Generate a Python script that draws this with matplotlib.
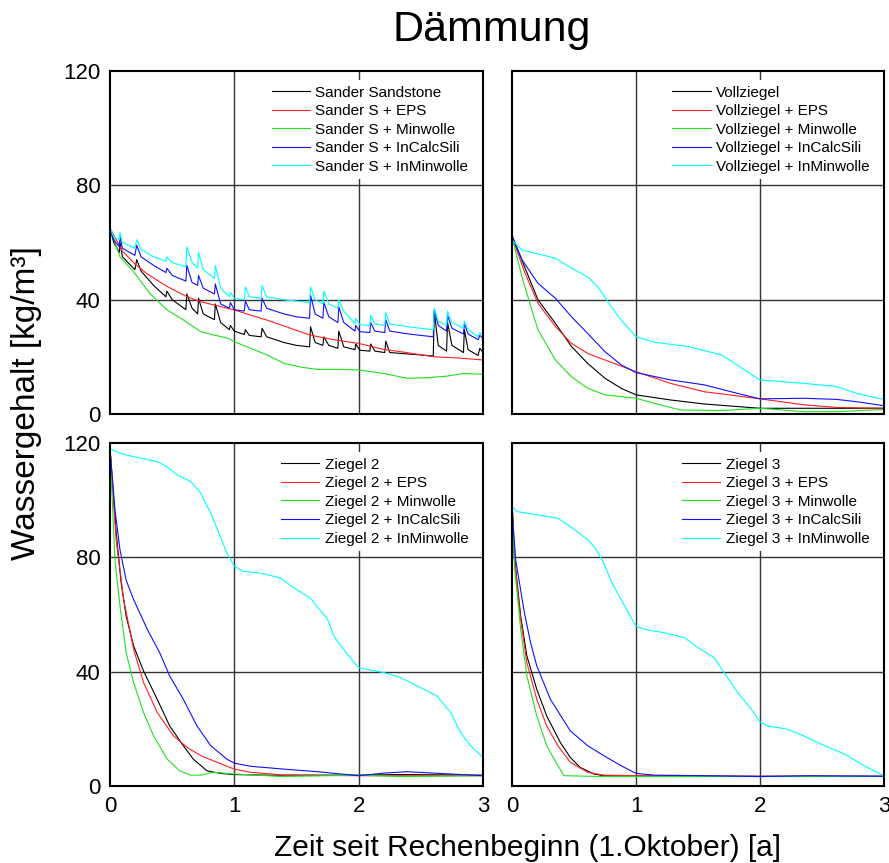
import matplotlib.pyplot as plt

plt.rcParams['font.family'] = ['Liberation Sans', 'DejaVu Sans']

# ---- Sander Sandstone (top left) ----
ss_names = ['Sander Sandstone', 'Sander S + EPS', 'Sander S + Minwolle',
            'Sander S + InCalcSili', 'Sander S + InMinwolle']

ss_black_t = [0.00, 0.03, 0.075, 0.08, 0.10, 0.20, 0.215, 0.25, 0.35, 0.45, 0.457, 0.50,
              0.61, 0.618, 0.66, 0.705, 0.712, 0.75, 0.84, 0.847, 0.89, 0.96, 0.968, 1.00,
              1.08, 1.089, 1.12, 1.215, 1.223, 1.26, 1.40, 1.50, 1.605, 1.613, 1.65, 1.712,
              1.72, 1.76, 1.833, 1.84, 1.88, 1.97, 1.976, 2.01, 2.09, 2.097, 2.13, 2.21,
              2.218, 2.25, 2.40, 2.60, 2.608, 2.64, 2.707, 2.715, 2.75, 2.843, 2.85, 2.88,
              2.96, 2.975, 3.00]
ss_black_v = [65, 60, 56.5, 60, 55, 50.5, 54, 50, 45, 41, 43, 40,
              36.5, 42, 37, 35, 40.5, 35, 33, 38.5, 32, 29.5, 31, 29,
              27.8, 29.5, 27.5, 27, 30, 27, 25, 24, 23.5, 30.5, 25, 24,
              27, 24, 23, 29, 23.5, 22.5, 24.5, 22.3, 22, 24.5, 22, 21.5,
              25.5, 21.5, 21, 20.3, 36, 24, 22, 32, 24, 21.5, 29.5, 22.5,
              20.5, 23, 21.5]

ss_red_t = [0, 0.1, 0.2, 0.3, 0.46, 0.62, 0.73, 0.85, 1.0, 1.13, 1.26, 1.4, 1.53, 1.61,
            1.8, 2.0, 2.2, 2.34, 2.47, 2.61, 2.8, 3.0]
ss_red_v = [65, 57, 52.5, 49, 44.6, 41, 39.3, 38, 36.4, 34.6, 32.9, 30.8, 28.8, 27.6,
            26, 24.7, 22.6, 21.8, 20.9, 20, 19.6, 18.9]

ss_green_t = [0, 0.08, 0.19, 0.32, 0.46, 0.59, 0.73, 0.83, 0.95, 1.0, 1.13, 1.26, 1.4,
              1.55, 1.67, 1.85, 2.0, 2.2, 2.39, 2.55, 2.7, 2.85, 3.0]
ss_green_v = [65, 55, 49.8, 42.2, 36.4, 32.9, 28.8, 27.7, 26.5, 25.3, 23, 20.7, 17.7,
              16.3, 15.6, 15.6, 15.4, 14.2, 12.5, 12.7, 13.2, 14.2, 13.9]

ss_blue_t = ss_black_t
ss_blue_v = [65, 61, 58.5, 62, 58, 55.5, 59, 55, 52, 49.5, 51, 48.5,
             46.5, 52, 46, 45, 48.5, 44, 42, 45.5, 38.5, 37, 39, 36.5,
             36, 39.5, 36.5, 36, 40.5, 37, 35, 34, 33.5, 41.5, 35, 33.5,
             39, 34, 32, 37.5, 32, 29, 31, 28.8, 28.5, 32, 29, 28.5,
             33, 29, 28, 27, 36.5, 31, 29, 34.5, 30, 28, 31.5, 28,
             26, 27.5, 26.5]

ss_cyan_t = ss_black_t
ss_cyan_v = [65, 62, 61, 63.5, 60, 58, 61, 57.5, 55, 53.5, 55, 53,
             51.5, 58.5, 53, 51, 56.5, 50.5, 47.5, 52, 44, 41, 42.5, 40.5,
             40, 44.5, 41, 40.5, 45, 41, 40, 39.5, 39, 44.5, 40, 38.5,
             43, 38.5, 37, 40, 36, 31.5, 33.5, 31.2, 31, 34.5, 31.5, 31,
             35.5, 31.5, 30.5, 29.5, 37, 32.5, 31, 36, 32, 30, 32.5, 29.5,
             27, 28.5, 27.5]

# ---- Vollziegel (top right) ----
vz_names = ['Vollziegel', 'Vollziegel + EPS', 'Vollziegel + Minwolle',
            'Vollziegel + InCalcSili', 'Vollziegel + InMinwolle']

vz_black_t = [0, 0.1, 0.21, 0.35, 0.48, 0.61, 0.75, 0.88, 1.0, 1.28, 1.55, 2.0, 2.4, 3.0]
vz_black_v = [62.6, 51.6, 39.9, 31.7, 23.6, 17.7, 12.5, 9, 6.7, 4.9, 3.5, 2, 2, 2]

vz_red_t = [0, 0.1, 0.21, 0.35, 0.48, 0.61, 0.75, 1.0, 1.28, 1.55, 2.0, 2.36, 2.62, 3.0]
vz_red_v = [62, 49.8, 38.7, 30.6, 24.7, 21.2, 18.9, 14.8, 10.7, 7.8, 5.3, 3.2, 2.3, 2]

vz_green_t = [0, 0.08, 0.16, 0.21, 0.35, 0.48, 0.61, 0.75, 1.0, 1.15, 1.36, 1.69, 2.0,
              2.36, 2.62, 3.0]
vz_green_v = [62, 48, 36.4, 29.4, 18.9, 13, 9, 6.7, 5.5, 3.7, 1.4, 1.2, 2, 0.8, 0.8, 1.6]

vz_blue_t = [0, 0.08, 0.21, 0.35, 0.48, 0.61, 0.75, 0.88, 1.0, 1.28, 1.55, 1.82, 2.0,
             2.36, 2.62, 2.78, 3.0]
vz_blue_v = [62, 54, 45.7, 40.5, 34, 28.2, 21.8, 17.2, 14.5, 11.9, 10.2, 7.2, 5.3,
             5.5, 5.1, 4.3, 2.9]

vz_cyan_t = [0, 0.08, 0.21, 0.35, 0.48, 0.61, 0.69, 0.8, 0.88, 1.0, 1.15, 1.42, 1.69,
             2.0, 2.36, 2.62, 2.78, 3.0]
vz_cyan_v = [60.9, 57.4, 56, 54.5, 51, 48, 44.6, 37.6, 32.9, 27, 25.1, 23.6, 20.7,
             11.9, 10.7, 9.6, 7.2, 5.1]

# ---- Ziegel 2 (bottom left) ----
z2_names = ['Ziegel 2', 'Ziegel 2 + EPS', 'Ziegel 2 + Minwolle',
            'Ziegel 2 + InCalcSili', 'Ziegel 2 + InMinwolle']

z2_black_t = [0, 0.05, 0.09, 0.13, 0.19, 0.27, 0.38, 0.48, 0.59, 0.67, 0.78, 0.89, 1.0,
              1.26, 2.0, 2.34, 3.0]
z2_black_v = [118, 88.5, 71, 59.4, 49, 40.2, 30.3, 21, 14.1, 9.4, 5.3, 4.4, 4, 3.8, 3.8,
              4, 3.8]

z2_red_t = [0, 0.05, 0.11, 0.19, 0.27, 0.38, 0.51, 0.62, 0.73, 0.86, 1.0, 1.13, 1.4,
            2.0, 3.0]
z2_red_v = [118, 86, 65.2, 47.8, 36.2, 25.7, 17.6, 13.5, 10.6, 8.3, 5.9, 4.8, 3.8,
            3.6, 3.6]

z2_green_t = [0, 0.04, 0.08, 0.13, 0.19, 0.27, 0.35, 0.46, 0.56, 0.65, 0.73, 0.83, 1.0,
              1.26, 1.37, 2.0, 2.34, 3.0]
z2_green_v = [118, 79, 63, 46.6, 36.2, 25.7, 17.6, 9.4, 5.3, 3.8, 3.8, 4.8, 4.2,
              3.6, 3.3, 3.8, 3.3, 3.6]

z2_blue_t = [0, 0.04, 0.08, 0.13, 0.19, 0.30, 0.40, 0.48, 0.59, 0.70, 0.81, 0.94, 1.0,
             1.13, 1.4, 1.67, 2.0, 2.2, 2.39, 2.61, 3.0]
z2_blue_v = [118, 96.6, 82.7, 72, 65.2, 54.8, 46.6, 38.5, 30.3, 21, 14.1, 9.4, 8,
             6.9, 5.9, 5, 3.6, 4.5, 5, 4.5, 3.6]

z2_cyan_t = [0, 0.08, 0.19, 0.38, 0.46, 0.54, 0.65, 0.73, 0.81, 0.86, 0.94, 1.0, 1.07,
             1.21, 1.37, 1.48, 1.61, 1.75, 1.8, 1.91, 2.0, 2.2, 2.34, 2.47, 2.63, 2.74,
             2.82, 2.9, 3.0]
z2_cyan_v = [118, 116.4, 115.2, 113.5, 111.7, 108.8, 106.5, 102.4, 95.5, 90.2, 81.5,
             76.9, 75.1, 74.5, 72.8, 69.3, 65.8, 58.3, 52.4, 46, 41.4, 39.7, 37.9, 35,
             31.5, 25.7, 18.7, 14.1, 10]

# ---- Ziegel 3 (bottom right) ----
z3_names = ['Ziegel 3', 'Ziegel 3 + EPS', 'Ziegel 3 + Minwolle',
            'Ziegel 3 + InCalcSili', 'Ziegel 3 + InMinwolle']

z3_black_t = [0, 0.02, 0.07, 0.12, 0.2, 0.28, 0.39, 0.47, 0.55, 0.66, 0.74, 1.0, 2.0, 3.0]
z3_black_v = [100.7, 80, 59.4, 45.5, 33.8, 24.5, 15.2, 10, 6.5, 4.2, 3.6, 3.5, 3.4, 3.4]

z3_red_t = [0, 0.02, 0.07, 0.12, 0.2, 0.28, 0.37, 0.47, 0.61, 0.74, 1.0, 2.0, 3.0]
z3_red_v = [100, 79, 58.3, 43.1, 30.3, 21, 14.1, 8.3, 4.8, 3.8, 3.6, 3.4, 3.4]

z3_green_t = [0, 0.02, 0.07, 0.12, 0.2, 0.28, 0.37, 0.42, 0.74, 2.0, 3.0]
z3_green_v = [100, 76.9, 54.8, 38.5, 24.5, 14.1, 7.1, 3.6, 3.3, 3.3, 3.3]

z3_blue_t = [0, 0.03, 0.1, 0.15, 0.2, 0.31, 0.47, 0.61, 0.74, 0.88, 1.0, 1.15, 1.55,
             2.0, 2.4, 3.0]
z3_blue_v = [96.6, 79, 60.6, 50.1, 42, 30.3, 19.3, 14.1, 10.6, 7.1, 4.4, 3.8, 3.6,
             3.3, 3.6, 3.4]

z3_cyan_t = [0, 0.04, 0.2, 0.37, 0.47, 0.61, 0.67, 0.74, 0.8, 0.88, 1.0, 1.07, 1.23,
             1.39, 1.5, 1.63, 1.71, 1.82, 1.93, 2.0, 2.06, 2.22, 2.35, 2.52, 2.68, 2.84,
             3.0]
z3_cyan_v = [97.8, 96, 94.9, 93.7, 90.8, 86.2, 83.3, 78, 71.6, 65.2, 55.9, 54.8, 53.6,
             51.9, 48.4, 44.9, 39.7, 32.7, 26.9, 22.4, 21, 19.9, 17.6, 14.1, 11.2, 7.1,
             3.6]

colors = ['black', '#ff2020', '#20e020', '#1010ff', '#00ffff']

panels = [
    (ss_names, [(ss_black_t, ss_black_v), (ss_red_t, ss_red_v), (ss_green_t, ss_green_v),
                (ss_blue_t, ss_blue_v), (ss_cyan_t, ss_cyan_v)]),
    (vz_names, [(vz_black_t, vz_black_v), (vz_red_t, vz_red_v), (vz_green_t, vz_green_v),
                (vz_blue_t, vz_blue_v), (vz_cyan_t, vz_cyan_v)]),
    (z2_names, [(z2_black_t, z2_black_v), (z2_red_t, z2_red_v), (z2_green_t, z2_green_v),
                (z2_blue_t, z2_blue_v), (z2_cyan_t, z2_cyan_v)]),
    (z3_names, [(z3_black_t, z3_black_v), (z3_red_t, z3_red_v), (z3_green_t, z3_green_v),
                (z3_blue_t, z3_blue_v), (z3_cyan_t, z3_cyan_v)]),
]

fig = plt.figure(figsize=(8.89, 8.63), dpi=100)
W, H = 889, 863
boxes = [(110, 71, 483, 414), (512, 71, 884, 414),
         (110, 443, 483, 786), (512, 443, 884, 786)]

for i, ((names, series), (x0, y0, x1, y1)) in enumerate(zip(panels, boxes)):
    ax = fig.add_axes([x0 / W, 1 - y1 / H, (x1 - x0) / W, (y1 - y0) / H])
    for (t, v), c, n in zip(series, colors, names):
        ax.plot(t, v, color=c, lw=0.8, label=n)
    ax.set_xlim(0, 3)
    ax.set_ylim(0, 120)
    for g in [1, 2]:
        ax.axvline(g, color='#333333', lw=1.0, zorder=0.5)
    for g in [40, 80]:
        ax.axhline(g, color='#333333', lw=1.0, zorder=0.5)
    ax.set_xticks([0, 1, 2, 3])
    ax.set_yticks([0, 40, 80, 120])
    ax.tick_params(length=0, labelsize=16, pad=7)
    if i < 2:
        ax.set_xticklabels([])
    if i % 2 == 1:
        ax.set_yticklabels([])
    for s in ax.spines.values():
        s.set_linewidth(1.5)
    leg = ax.legend(loc='upper right', fontsize=11, handlelength=2.5,
                    handletextpad=0.35, labelspacing=0.3, borderaxespad=0.6,
                    frameon=True, fancybox=False, framealpha=1, borderpad=0.35)
    leg.get_frame().set_edgecolor('none')
    leg.set_zorder(5)

fig.text(0.553, 0.965, 'Dämmung', fontsize=31, ha='center', va='center')
fig.text(0.593, 0.017, 'Zeit seit Rechenbeginn (1.Oktober) [a]', fontsize=21.5,
         ha='center', va='center')
fig.text(0.03, 0.533, 'Wassergehalt [kg/m³]', fontsize=24, rotation=90,
         ha='center', va='center')

fig.savefig('out.png', dpi=100)
